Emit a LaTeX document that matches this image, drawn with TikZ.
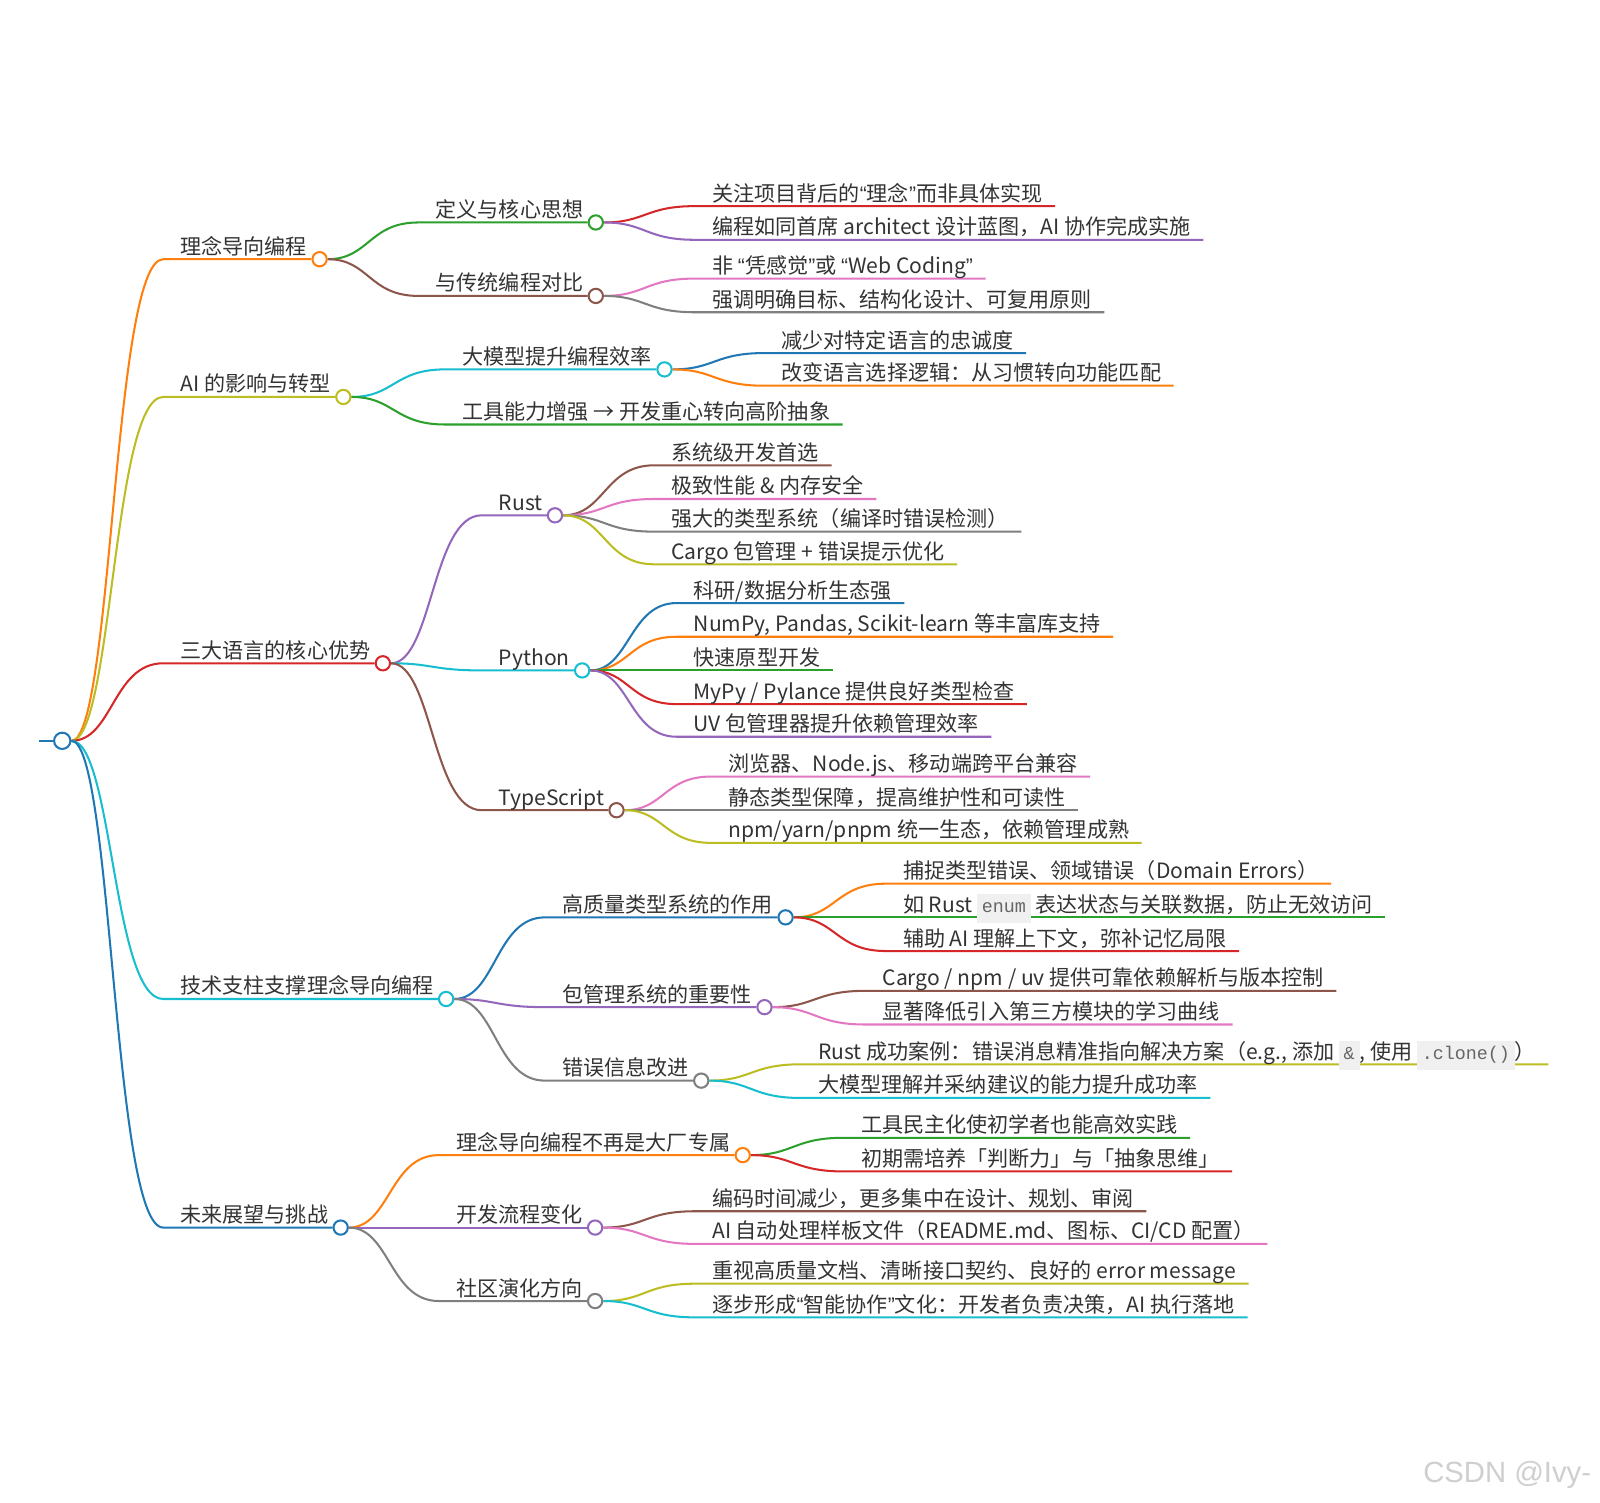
\documentclass[tikz,border=0pt]{standalone}
\usepackage{fontspec}
\setmainfont{Noto Sans CJK SC}
\newfontfamily\codefont{Liberation Mono}
\newfontfamily\latinfont{Liberation Sans}
\usepackage{xcolor}
\usepackage{tikz}
\usetikzlibrary{calc, backgrounds}

\definecolor{cBlue}{HTML}{1F77B4}
\definecolor{cOrange}{HTML}{FF7F0E}
\definecolor{cGreen}{HTML}{2CA02C}
\definecolor{cRed}{HTML}{D62728}
\definecolor{cPurple}{HTML}{9467BD}
\definecolor{cBrown}{HTML}{8C564B}
\definecolor{cPink}{HTML}{E377C2}
\definecolor{cGray}{HTML}{7F7F7F}
\definecolor{cOlive}{HTML}{BCBD22}
\definecolor{cCyan}{HTML}{17BECF}
\definecolor{textgray}{HTML}{333333}
\definecolor{codebg}{HTML}{F0F0F0}
\definecolor{codefg}{HTML}{666666}
\definecolor{wmgray}{HTML}{CFCFCF}

\newcommand{\codetag}[1]{{\setlength{\fboxsep}{3.5pt}\colorbox{codebg}{\codefont\fontsize{13.5}{14}\selectfont\color{codefg}\strut #1}}}
\newcommand{\oq}{{\latinfont “}}
\newcommand{\cq}{{\latinfont ”}}

\tikzset{
  lbl/.style={anchor=south west, inner xsep=0pt, inner ysep=1pt,
    text height=0.9em, text depth=0.25em,
    execute at begin node=\hspace*{12.5pt}, execute at end node=\hspace*{9pt}},
  knob/.style={circle, draw=#1, fill=white, line width=1.5pt, minimum size=10.5pt, inner sep=0pt},
  mmlink/.style={to path={let \p1=(\tikztostart), \p2=(\tikztotarget) in
    .. controls (\x1/2+\x2/2,\y1) and (\x1/2+\x2/2,\y2) .. (\tikztotarget) \tikztonodes}}
}

\begin{document}
\begin{tikzpicture}[x=0.75pt, y=-0.75pt, text=textgray,
    font=\fontsize{15.5}{18}\selectfont]
\useasboundingbox (0,0) rectangle (1568,1472);

% --- Root ---
\coordinate (rootstart) at (38,726);
\node[knob=cBlue, minimum size=12pt] (root) at (61,726) {};

% --- Level 1 ---
\node[lbl] (t1) at (160,254) {理念导向编程};
\node[knob=cOrange] (n1) at (t1.south east) {};
\node[lbl] (t2) at (160,389) {AI 的影响与转型};
\node[knob=cOlive] (n2) at (t2.south east) {};
\node[lbl] (t3) at (160,650) {三大语言的核心优势};
\node[knob=cRed] (n3) at (t3.south east) {};
\node[lbl] (t4) at (160,979) {技术支柱支撑理念导向编程};
\node[knob=cCyan] (n4) at (t4.south east) {};
\node[lbl] (t5) at (160,1203) {未来展望与挑战};
\node[knob=cBlue] (n5) at (t5.south east) {};

% --- 理念导向编程 ---
\node[lbl] (t11) at (410,218) {定义与核心思想};
\node[knob=cGreen] (n11) at (t11.south east) {};
\node[lbl] (t12) at (410,290) {与传统编程对比};
\node[knob=cBrown] (n12) at (t12.south east) {};
\node[lbl] (l111) at (681,202) {关注项目背后的\oq 理念\cq 而非具体实现};
\node[lbl] (l112) at (681,235) {编程如同首席 architect 设计蓝图，AI 协作完成实施};
\node[lbl] (l121) at (681,273) {非 \oq 凭感觉\cq 或 \oq Web Coding\cq};
\node[lbl] (l122) at (681,306) {强调明确目标、结构化设计、可复用原则};

% --- AI 的影响与转型 ---
\node[lbl] (t21) at (436,362) {大模型提升编程效率};
\node[knob=cCyan] (n21) at (t21.south east) {};
\node[lbl] (l22) at (436,416) {工具能力增强 → 开发重心转向高阶抽象};
\node[lbl] (l211) at (749,346) {减少对特定语言的忠诚度};
\node[lbl] (l212) at (749,378) {改变语言选择逻辑：从习惯转向功能匹配};

% --- 三大语言 ---
\node[lbl] (t31) at (472,505) {Rust};
\node[knob=cPurple] (n31) at (t31.south east) {};
\node[lbl] (t32) at (472,657) {Python};
\node[knob=cCyan] (n32) at (t32.south east) {};
\node[lbl] (t33) at (472,794) {TypeScript};
\node[knob=cBrown] (n33) at (t33.south east) {};
\node[lbl] (l311) at (641,456) {系统级开发首选};
\node[lbl] (l312) at (641,489) {极致性能 \& 内存安全};
\node[lbl] (l313) at (641,521) {强大的类型系统（编译时错误检测）};
\node[lbl] (l314) at (641,553) {Cargo 包管理 + 错误提示优化};
\node[lbl] (l321) at (663,591) {科研/数据分析生态强};
\node[lbl] (l322) at (663,624) {NumPy, Pandas, Scikit-learn 等丰富库支持};
\node[lbl] (l323) at (663,657) {快速原型开发};
\node[lbl] (l324) at (663,690) {MyPy / Pylance 提供良好类型检查};
\node[lbl] (l325) at (663,722) {UV 包管理器提升依赖管理效率};
\node[lbl] (l331) at (697,761) {浏览器、Node.js、移动端跨平台兼容};
\node[lbl] (l332) at (697,794) {静态类型保障，提高维护性和可读性};
\node[lbl] (l333) at (697,826) {npm/yarn/pnpm 统一生态，依赖管理成熟};

% --- 技术支柱 ---
\node[lbl] (t41) at (534,899) {高质量类型系统的作用};
\node[knob=cBlue] (n41) at (t41.south east) {};
\node[lbl] (t42) at (534,987) {包管理系统的重要性};
\node[knob=cPurple] (n42) at (t42.south east) {};
\node[lbl] (t43) at (534,1059) {错误信息改进};
\node[knob=cGray] (n43) at (t43.south east) {};
\node[lbl] (l411) at (868,866) {捕捉类型错误、领域错误（Domain Errors）};
\node[lbl] (l412) at (868,899) {如 Rust \codetag{enum} 表达状态与关联数据，防止无效访问};
\node[lbl] (l413) at (868,932) {辅助 AI 理解上下文，弥补记忆局限};
\node[lbl] (l421) at (848,971) {Cargo / npm / uv 提供可靠依赖解析与版本控制};
\node[lbl] (l422) at (848,1004) {显著降低引入第三方模块的学习曲线};
\node[lbl] (l431) at (785,1043) {Rust 成功案例：错误消息精准指向解决方案（e.g., 添加 \codetag{\&}, 使用 \codetag{.clone()}）};
\node[lbl] (l432) at (785,1076) {大模型理解并采纳建议的能力提升成功率};

% --- 未来展望 ---
\node[lbl] (t51) at (430,1132) {理念导向编程不再是大厂专属};
\node[knob=cOrange] (n51) at (t51.south east) {};
\node[lbl] (t52) at (430,1203) {开发流程变化};
\node[knob=cPurple] (n52) at (t52.south east) {};
\node[lbl] (t53) at (430,1275) {社区演化方向};
\node[knob=cGray] (n53) at (t53.south east) {};
\node[lbl] (l511) at (827,1115) {工具民主化使初学者也能高效实践};
\node[lbl] (l512) at (827,1148) {初期需培养「判断力」与「抽象思维」};
\node[lbl] (l521) at (681,1187) {编码时间减少，更多集中在设计、规划、审阅};
\node[lbl] (l522) at (681,1219) {AI 自动处理样板文件（README.md、图标、CI/CD 配置）};
\node[lbl] (l531) at (681,1258) {重视高质量文档、清晰接口契约、良好的 error message};
\node[lbl] (l532) at (681,1291) {逐步形成\oq 智能协作\cq 文化：开发者负责决策，AI 执行落地};

% --- Watermark ---
\node[anchor=east, text=wmgray, font=\latinfont\fontsize{21.5}{24}\selectfont] (mark) at (1564,1445) {CSDN @Ivy-};

% --- Connectors ---
\begin{scope}[on background layer]
\fill[white] (0,0) rectangle (1568,1472);
\begin{scope}[line width=1.5pt]
\draw[cBlue] (rootstart) -- (root);
\draw[cOrange] (root) to[mmlink] (t1.south west) -- (n1);
\draw[cOlive] (root) to[mmlink] (t2.south west) -- (n2);
\draw[cRed] (root) to[mmlink] (t3.south west) -- (n3);
\draw[cCyan] (root) to[mmlink] (t4.south west) -- (n4);
\draw[cBlue] (root) to[mmlink] (t5.south west) -- (n5);

\draw[cGreen] (n1) to[mmlink] (t11.south west) -- (n11);
\draw[cBrown] (n1) to[mmlink] (t12.south west) -- (n12);
\draw[cRed] (n11) to[mmlink] (l111.south west) -- (l111.south east);
\draw[cPurple] (n11) to[mmlink] (l112.south west) -- (l112.south east);
\draw[cPink] (n12) to[mmlink] (l121.south west) -- (l121.south east);
\draw[cGray] (n12) to[mmlink] (l122.south west) -- (l122.south east);

\draw[cCyan] (n2) to[mmlink] (t21.south west) -- (n21);
\draw[cGreen] (n2) to[mmlink] (l22.south west) -- (l22.south east);
\draw[cBlue] (n21) to[mmlink] (l211.south west) -- (l211.south east);
\draw[cOrange] (n21) to[mmlink] (l212.south west) -- (l212.south east);

\draw[cPurple] (n3) to[mmlink] (t31.south west) -- (n31);
\draw[cCyan] (n3) to[mmlink] (t32.south west) -- (n32);
\draw[cBrown] (n3) to[mmlink] (t33.south west) -- (n33);
\draw[cBrown] (n31) to[mmlink] (l311.south west) -- (l311.south east);
\draw[cPink] (n31) to[mmlink] (l312.south west) -- (l312.south east);
\draw[cGray] (n31) to[mmlink] (l313.south west) -- (l313.south east);
\draw[cOlive] (n31) to[mmlink] (l314.south west) -- (l314.south east);
\draw[cBlue] (n32) to[mmlink] (l321.south west) -- (l321.south east);
\draw[cOrange] (n32) to[mmlink] (l322.south west) -- (l322.south east);
\draw[cGreen] (n32) to[mmlink] (l323.south west) -- (l323.south east);
\draw[cRed] (n32) to[mmlink] (l324.south west) -- (l324.south east);
\draw[cPurple] (n32) to[mmlink] (l325.south west) -- (l325.south east);
\draw[cPink] (n33) to[mmlink] (l331.south west) -- (l331.south east);
\draw[cGray] (n33) to[mmlink] (l332.south west) -- (l332.south east);
\draw[cOlive] (n33) to[mmlink] (l333.south west) -- (l333.south east);

\draw[cBlue] (n4) to[mmlink] (t41.south west) -- (n41);
\draw[cPurple] (n4) to[mmlink] (t42.south west) -- (n42);
\draw[cGray] (n4) to[mmlink] (t43.south west) -- (n43);
\draw[cOrange] (n41) to[mmlink] (l411.south west) -- (l411.south east);
\draw[cGreen] (n41) to[mmlink] (l412.south west) -- (l412.south east);
\draw[cRed] (n41) to[mmlink] (l413.south west) -- (l413.south east);
\draw[cBrown] (n42) to[mmlink] (l421.south west) -- (l421.south east);
\draw[cPink] (n42) to[mmlink] (l422.south west) -- (l422.south east);
\draw[cOlive] (n43) to[mmlink] (l431.south west) -- (l431.south east);
\draw[cCyan] (n43) to[mmlink] (l432.south west) -- (l432.south east);

\draw[cOrange] (n5) to[mmlink] (t51.south west) -- (n51);
\draw[cPurple] (n5) to[mmlink] (t52.south west) -- (n52);
\draw[cGray] (n5) to[mmlink] (t53.south west) -- (n53);
\draw[cGreen] (n51) to[mmlink] (l511.south west) -- (l511.south east);
\draw[cRed] (n51) to[mmlink] (l512.south west) -- (l512.south east);
\draw[cBrown] (n52) to[mmlink] (l521.south west) -- (l521.south east);
\draw[cPink] (n52) to[mmlink] (l522.south west) -- (l522.south east);
\draw[cOlive] (n53) to[mmlink] (l531.south west) -- (l531.south east);
\draw[cCyan] (n53) to[mmlink] (l532.south west) -- (l532.south east);
\end{scope}
\end{scope}
\end{tikzpicture}
\end{document}
